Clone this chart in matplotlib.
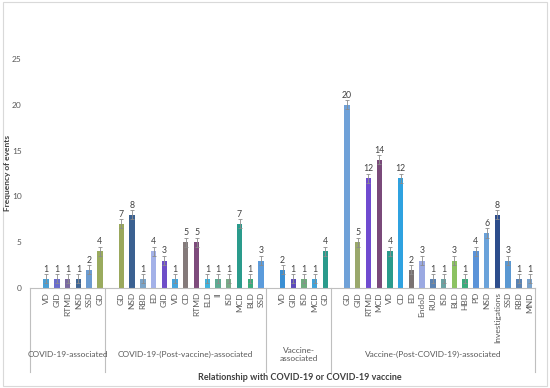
import matplotlib
matplotlib.use("Agg")
import matplotlib.pyplot as plt
from matplotlib.patches import Rectangle

groups = ["COVID-19-associated", "COVID-19-(Post-vaccine)-associated",
          "Vaccine-\nassociated", "Vaccine-(Post-COVID-19)-associated"]

g1_labels = ["VD", "GID", "RTMD", "NSD", "SSD", "GD"]
g1_values = [1, 1, 1, 1, 2, 4]

g2_labels = ["GD", "NSD", "RBD", "ED", "GID", "VD", "CD", "RTMD", "ELD", "II",
             "ISD", "MCD", "BLD", "SSD"]
g2_values = [7, 8, 1, 4, 3, 1, 5, 5, 1, 1, 1, 7, 1, 3]

g3_labels = ["VD", "GID", "ISD", "MCD", "GD"]
g3_values = [2, 1, 1, 1, 4]

g4_labels = ["GD", "GID", "RTMD", "MCD", "VD", "CD", "ED", "EndoD", "RUD", "ISD",
             "BLD", "HBD", "PD", "NSD", "Investigations", "SSD", "RBD", "MND"]
g4_values = [20, 5, 12, 14, 4, 12, 2, 3, 1, 1, 3, 1, 4, 6, 8, 3, 1, 1]

colors = [
    # group 1
    '#4a9fd4', '#6a6ccc', '#7a6aa0', '#3e6594', '#6b9bd0', '#9aab5e',
    # group 2
    '#9aa85c', '#3b6191', '#7ba4c8', '#a3b1e8', '#6e4ec8', '#45a4db', '#847a7a',
    '#7e4b7c', '#3fb2dc', '#5daa92', '#79aa88', '#2a9b8c', '#3aab7c', '#5b9bdb',
    # group 3
    '#3a8fd3', '#5c4bbb', '#6fab7e', '#3fa2d8', '#2a9b8c',
    # group 4
    '#6fa1d8', '#9aa86c', '#6f4bd0', '#7a4a7a', '#2a9b8c', '#2fa2e0', '#7a7272',
    '#9ba9e2', '#5a82b2', '#6aa2a2', '#8cc262', '#3aab7c', '#5b93d8', '#6aa2da',
    '#2d4d8c', '#5a98d2', '#5a82b2', '#79a2cb',
]

all_groups = [(g1_labels, g1_values), (g2_labels, g2_values),
              (g3_labels, g3_values), (g4_labels, g4_values)]

plt.rcParams['font.family'] = ['Lato', 'DejaVu Sans']
fig = plt.figure(figsize=(5.5, 3.88), dpi=100)
fig.patches.append(Rectangle((0.006, 0.006), 0.988, 0.988, transform=fig.transFigure,
                             fill=False, edgecolor='#d9d9d9', linewidth=0.8))
ax = fig.add_axes([30 / 550, 1 - 288 / 388, 505 / 550, 229 / 388])

txt_col = '#595959'
line_col = '#bfbfbf'
yerr = 0.5

xs, vals, labs = [], [], []
dividers = [0]
centers = []
slot = 0
for labels, values in all_groups:
    start = slot
    slot += 1  # empty leading category
    for l, v in zip(labels, values):
        xs.append(slot + 0.5)
        vals.append(v)
        labs.append(l)
        slot += 1
    dividers.append(slot)
    centers.append((start + slot) / 2)

ax.bar(xs, vals, width=0.5, color=colors, zorder=2)
ax.errorbar(xs, vals, yerr=yerr, fmt='none', ecolor='#8c8c8c', elinewidth=0.6,
            capsize=1.5, capthick=0.6, zorder=3)
for x, v in zip(xs, vals):
    ax.text(x, v + yerr + 0.05, str(v), ha='center', va='bottom', fontsize=6.3,
            color='#404040')

ax.set_xlim(0, slot)
ax.set_ylim(0, 25)
ax.set_yticks([0, 5, 10, 15, 20, 25])
ax.tick_params(axis='y', length=0, labelsize=6, labelcolor=txt_col, pad=6)
ax.set_xticks(xs)
ax.set_xticklabels(labs, rotation=90, fontsize=6, color=txt_col)
ax.tick_params(axis='x', length=0, pad=3)
for s in ['top', 'right', 'left']:
    ax.spines[s].set_visible(False)
ax.spines['bottom'].set_color(line_col)
ax.spines['bottom'].set_linewidth(0.8)

for d in dividers:
    ax.plot([d, d], [0, -0.367], transform=ax.get_xaxis_transform(), color=line_col,
            linewidth=0.8, clip_on=False)
for c, g in zip(centers, groups):
    ax.text(c, -0.29, g, transform=ax.get_xaxis_transform(), ha='center', va='center',
            fontsize=6, color=txt_col, linespacing=1.3)

fig.text(0.545, 1 - 378 / 388, "Relationship with COVID-19 or COVID-19 vaccine",
         ha='center', va='center', fontsize=6.5, fontweight='bold', color='#404040')
fig.text(7.5 / 550, 1 - 173 / 388, "Frequency of events", rotation=90, ha='center',
         va='center', fontsize=6, fontweight='bold', color='#404040')

fig.savefig("out.png", dpi=100)
